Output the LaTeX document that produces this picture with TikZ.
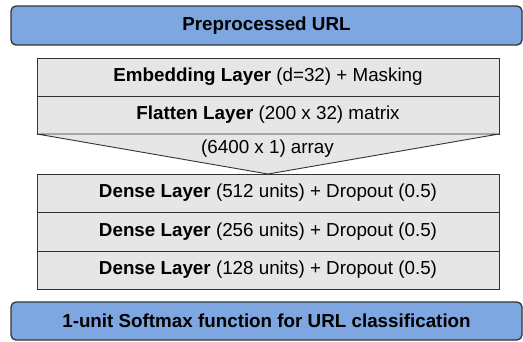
\documentclass[tikz,border=0pt]{standalone}
\usepackage{fontspec}
\setmainfont{Liberation Sans}
\definecolor{bluebox}{HTML}{7EA6E0}
\definecolor{graybox}{HTML}{E6E6E6}
\definecolor{edge}{HTML}{333333}
\begin{document}
\begin{tikzpicture}[x=1pt,y=-1pt,
  every node/.style={font=\fontsize{18.8}{22}\selectfont, inner sep=0pt, outer sep=0pt, text=black},
  bluebar/.style={draw=edge, line width=1.3pt, fill=bluebox, rounded corners=5pt,
    minimum width=511pt, font=\fontsize{18.8}{22}\selectfont\bfseries},
  layerrow/.style={draw=edge, line width=1pt, fill=graybox, minimum width=462pt, minimum height=38pt}
]
\useasboundingbox (0,0) rectangle (523,341);
\node[bluebar, minimum height=39pt] (input) at (266.5,25.5) {Preprocessed URL};
\node[layerrow] (embed) at (268,77) {\textbf{Embedding Layer} (d=32) + Masking};
\node[layerrow] (flat) at (268,115) {\textbf{Flatten Layer} (200 x 32) matrix};
\coordinate (apex) at (268,174);
\draw[edge, line width=0.9pt, fill=graybox, line join=miter] (flat.south west) -- (flat.south east) -- (apex) -- cycle;
\node (arr) at (267.5,149) {(6400 x 1) array};
\node[layerrow] (d1) at (268,193) {\textbf{Dense Layer} (512 units) + Dropout (0.5)};
\node[layerrow, minimum height=39pt] (d2) at (268,231.5) {\textbf{Dense Layer} (256 units) + Dropout (0.5)};
\node[layerrow] (d3) at (268,270) {\textbf{Dense Layer} (128 units) + Dropout (0.5)};
\node[bluebar, minimum height=38pt] (output) at (266.5,321) {1-unit Softmax function for URL classification};
\end{tikzpicture}
\end{document}
